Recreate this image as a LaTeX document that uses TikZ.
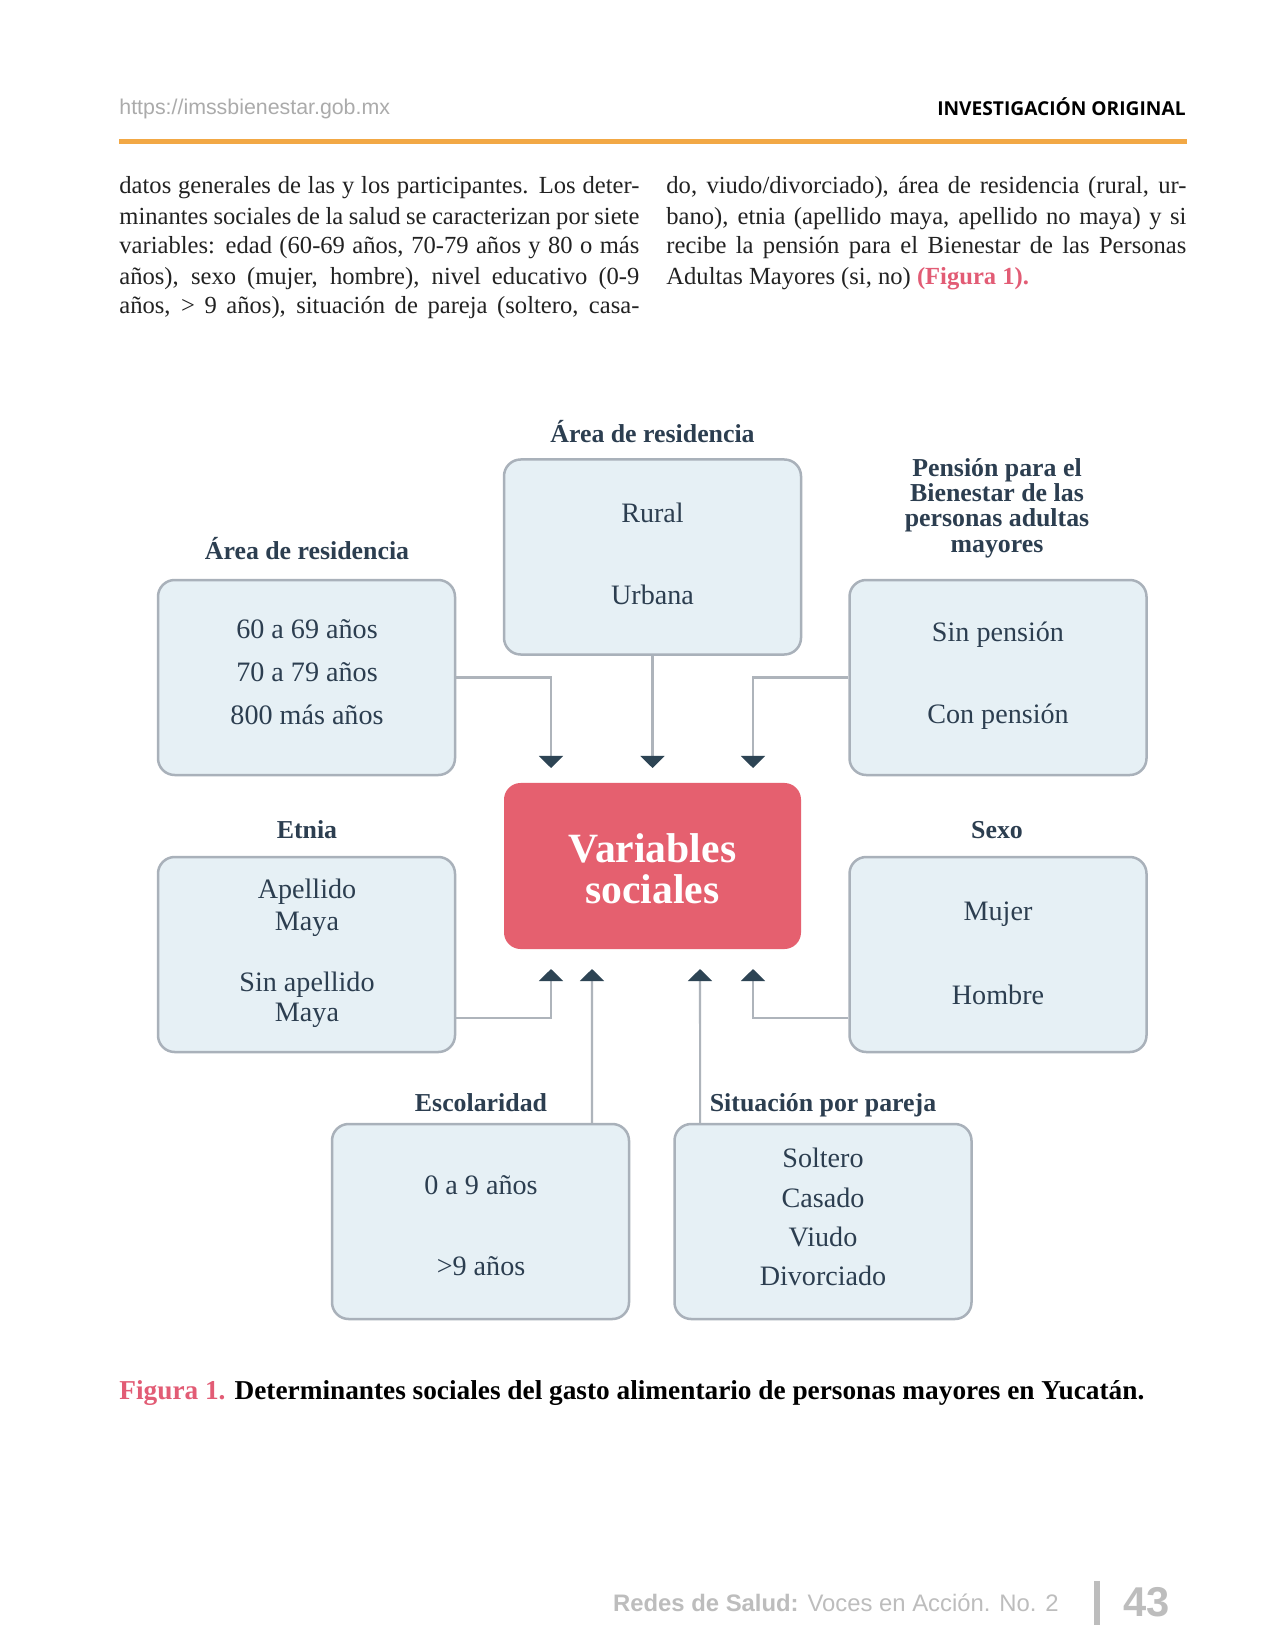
\documentclass[tikz,border=0pt]{standalone}
\usepackage{fontspec}
\setmainfont{Liberation Serif}
\newfontfamily\hsans{Liberation Sans}
\newfontfamily\osans{Open Sans}
\usetikzlibrary{arrows.meta}
\definecolor{boxfill}{HTML}{E6F0F5}
\definecolor{boxline}{HTML}{A9B1BA}
\definecolor{conn}{HTML}{AEB4BB}
\definecolor{tipc}{HTML}{2D4454}
\definecolor{txt}{HTML}{2C3E50}
\definecolor{redbox}{HTML}{E5606F}
\definecolor{orangeline}{HTML}{F2A845}
\definecolor{pinkfig}{HTML}{E25C75}
\definecolor{grayfoot}{HTML}{BDBDBD}
\definecolor{grayurl}{HTML}{ABABAB}
\definecolor{bodytxt}{HTML}{222222}
\newdimen\pxu \pxu=0.48pt
\newcommand{\bodyfont}{\fontsize{11.8}{14.4}\selectfont\color{bodytxt}}
\newcommand{\jline}[1]{\makebox[520\pxu][s]{#1}}
\tikzset{
  catbox/.style={draw=boxline, line width=1.2pt, fill=boxfill, rounded corners=8pt,
    minimum width=142.56pt, minimum height=93.6pt, inner sep=0pt},
  redbx/.style={fill=redbox, rounded corners=8pt, minimum width=142.56pt,
    minimum height=79.7pt, inner sep=0pt},
  heading/.style={text=txt, font=\bfseries\fontsize{12.4}{12.2}\selectfont, align=center, inner sep=0pt},
  item/.style={text=txt, font=\fontsize{13.5}{14}\selectfont, align=center, inner sep=0pt},
  conline/.style={draw=conn, line width=1pt, -{Triangle[width=11.5pt,length=5.8pt,color=tipc,fill=tipc]}},
  bodyl/.style={anchor=base west, inner sep=0pt, font=\bodyfont},
}
\begin{document}
\begin{tikzpicture}[x=0.48pt, y=-0.48pt]
\useasboundingbox (0,0) rectangle (1275,1650);
\fill[white] (0,0) rectangle (1275,1650);

% header
\node[anchor=base west, inner sep=0pt, text=grayurl, font=\hsans\fontsize{10.25}{12}\selectfont] (url) at (119,115) {https://imssbienestar.gob.mx};
\node[anchor=base east, inner sep=0pt, text=black, font=\osans\bfseries\fontsize{9.2}{11}\selectfont] (sec) at (1186,116) {INVESTIGACIÓN ORIGINAL};
\draw[orangeline, line width=2.4pt] (119,142) -- (1187,142);

% body text
\node[bodyl] (l1) at (119,194) {\jline{datos generales de las y los participantes. Los deter-}};
\node[bodyl] (l2) at (119,224.5) {\jline{minantes sociales de la salud se caracterizan por siete}};
\node[bodyl] (l3) at (119,254) {\jline{variables: edad (60-69 años, 70-79 años y 80 o más}};
\node[bodyl] (l4) at (119,284.5) {\jline{años), sexo (mujer, hombre), nivel educativo (0-9}};
\node[bodyl] (l5) at (119,314) {\jline{años, > 9 años), situación de pareja (soltero, casa-}};
\node[bodyl] (r1) at (666,194) {\jline{do, viudo/divorciado), área de residencia (rural, ur-}};
\node[bodyl] (r2) at (666,224.5) {\jline{bano), etnia (apellido maya, apellido no maya) y si}};
\node[bodyl] (r3) at (666,254) {\jline{recibe la pensión para el Bienestar de las Personas}};
\node[bodyl] (r4) at (666,284.5) {Adultas Mayores (si, no) {\color{pinkfig}\bfseries(Figura 1).}};

% boxes
\node[catbox] (T) at (652.5,557) {};
\node[catbox] (LU) at (306.5,677.5) {};
\node[catbox] (RU) at (998,677.5) {};
\node[redbx] (C) at (652.5,866) {};
\node[catbox] (LL) at (306.5,954.5) {};
\node[catbox] (RL) at (998,954.5) {};
\node[catbox] (BL) at (480.5,1221.5) {};
\node[catbox] (BR) at (823,1221.5) {};

% headings
\node[heading] (hT) at (652.5,432) {Área de residencia};
\node[heading] (hLU) at (307,549) {Área de residencia};
\node[heading] (hRU) at (997,508) {Pensión para el\\Bienestar de las\\personas adultas\\mayores};
\node[heading] (hLL) at (307,830) {Etnia};
\node[heading] (hRL) at (997,830) {Sexo};
\node[heading, anchor=base] (hBL) at (481,1111) {Escolaridad};
\node[heading, anchor=base] (hBR) at (823,1111) {Situación por pareja};

% items
\node[item] (t1) at (652.5,513) {Rural};
\node[item] (t2) at (652.5,595) {Urbana};
\node[item] (lu1) at (307,629) {60 a 69 años};
\node[item] (lu2) at (307,672) {70 a 79 años};
\node[item] (lu3) at (307,715) {800 más años};
\node[item] (ru1) at (998,635) {Sin pensión};
\node[item] (ru2) at (998,717) {Con pensión};
\node[item] (ll1) at (307,892) {Apellido};
\node[item] (ll2) at (307,924) {Maya};
\node[item] (ll3) at (307,985) {Sin apellido};
\node[item] (ll4) at (307,1015) {Maya};
\node[item] (rl1) at (998,914) {Mujer};
\node[item] (rl2) at (998,995) {Hombre};
\node[item] (bl1) at (481,1185) {0 a 9 años};
\node[item] (bl2) at (481,1266) {>9 años};
\node[item] (br1) at (823,1158) {Soltero};
\node[item] (br2) at (823,1198) {Casado};
\node[item] (br3) at (823,1237) {Viudo};
\node[item] (br4) at (823,1276) {Divorciado};

% central text
\node[text=white, font=\bfseries\fontsize{20}{19.7}\selectfont, align=center, inner sep=0pt] (ct) at (652.5,868.5) {Variables\\sociales};

% connectors
\coordinate (a1) at (551,768);
\coordinate (a2) at (652.5,768);
\coordinate (a3) at (753,768);
\coordinate (b1) at (551,969);
\coordinate (b2) at (592,969);
\coordinate (b3) at (700,969);
\coordinate (b4) at (753,969);
\draw[conline] (LU.east) -| (a1);
\draw[conline] (T.south) -- (a2);
\draw[conline] (RU.west) -| (a3);
\draw[conline] ([yshift=-30.5pt]LL.east) -| (b1);
\draw[conline] ([xshift=53.5pt]BL.north) -- (b2);
\draw[conline] ([xshift=-59pt]BR.north) -- (b3);
\draw[conline] ([yshift=-30.5pt]RL.west) -| (b4);

% caption
\node[anchor=base west, inner sep=0pt, font=\bfseries\fontsize{13.1}{15}\selectfont] (cap) at (119,1399) {{\color{pinkfig}Figura 1.} Determinantes sociales del gasto alimentario de personas mayores en Yucatán.};

% footer
\node[anchor=base east, inner sep=0pt, text=grayfoot, font=\hsans\fontsize{11.45}{13}\selectfont] (foot) at (1059,1611) {\bfseries Redes de Salud: \mdseries Voces en Acción. No. 2};
\fill[grayfoot] (1094,1581) rectangle (1100,1625);
\node[anchor=base west, inner sep=0pt, text=grayfoot, font=\hsans\bfseries\fontsize{20}{22}\selectfont] (pg) at (1123,1616) {43};
\end{tikzpicture}
\end{document}
